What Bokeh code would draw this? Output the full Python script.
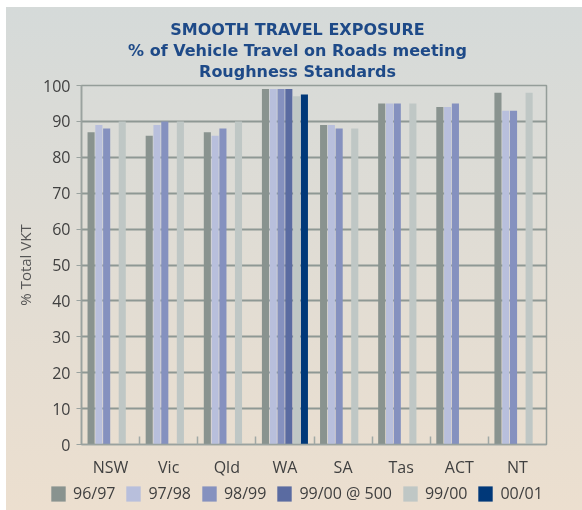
from bokeh.plotting import figure
from bokeh.layouts import column
from bokeh.models import (ColumnDataSource, Legend, LegendItem, FixedTicker, Range1d,
                          Label)
from bokeh.transform import dodge
from bokeh.embed import file_html
from bokeh.resources import INLINE

# ---- data ----
states = ["NSW", "Vic", "Qld", "WA", "SA", "Tas", "ACT", "NT"]
series_names = ["96/97", "97/98", "98/99", "99/00 @ 500", "99/00", "00/01"]
v_9697 = [87, 86, 87, 99, 89, 95, 94, 98]
v_9798 = [89, 89, 86, 99, 89, 95, 94, 93]
v_9899 = [88, 90, 88, 99, 88, 95, 95, 93]
v_9900_500 = [None, None, None, 99, None, None, None, None]
v_9900 = [90, 90, 90, 97, 88, 95, None, 98]
v_0001 = [None, None, None, 97.5, None, None, None, None]
y_ticks = [0, 10, 20, 30, 40, 50, 60, 70, 80, 90, 100]
title_lines = ["SMOOTH TRAVEL EXPOSURE", "% of Vehicle Travel on Roads meeting",
               "Roughness Standards"]

series_values = [v_9697, v_9798, v_9899, v_9900_500, v_9900, v_0001]
colors = ["#89938f", "#b8bfdc", "#8591bf", "#5a6ba1", "#bfc7c5", "#003879"]

FONT = "Open Sans"


def no_align(f):
    if "frame_align" in f.properties():
        f.frame_align = False


def blank_fig(h):
    f = figure(width=582, height=h, x_range=Range1d(0, 1), y_range=Range1d(0, 1),
               output_backend="svg", toolbar_location=None, title_location=None,
               x_axis_location=None, y_axis_location=None, min_border=0)
    f.background_fill_color = None
    f.border_fill_color = None
    f.outline_line_color = None
    f.xgrid.visible = False
    f.ygrid.visible = False
    no_align(f)
    return f


# ---- title strip (overlaps the chart below by 10px) ----
p_top = blank_fig(85)
p_top.margin = (0, 0, -10, 0)
for j, line in enumerate(title_lines):
    p_top.add_layout(Label(text=line, x=297, y=56 - 21 * j, x_units="screen",
                           y_units="screen", text_align="center",
                           text_baseline="alphabetic", text_font="DejaVu Sans",
                           text_font_size="16px", text_font_style="bold",
                           text_color="#1e4a88"))

# ---- main chart ----
p = figure(width=582, height=405, x_range=Range1d(-0.5, len(states) - 0.5),
           y_range=Range1d(0, 100), output_backend="svg", toolbar_location=None,
           title_location=None, min_border_left=81, min_border_right=36,
           min_border_top=10, min_border_bottom=32)
p.background_fill_color = None
p.border_fill_color = None
p.outline_line_color = "#949d99"
p.outline_line_width = 1.5
no_align(p)

slot = 0.134
bar_w = 0.122
for k, (name, vals, col) in enumerate(zip(series_names, series_values, colors)):
    xs = [i for i, v in enumerate(vals) if v is not None]
    tops = [v for v in vals if v is not None]
    src = ColumnDataSource(dict(x=xs, top=tops))
    off = (k - 2.5) * slot
    p.vbar(x=dodge("x", off), top="top", width=bar_w, source=src,
           fill_color=col, line_color=None)

p.xaxis.ticker = FixedTicker(ticks=list(range(len(states))),
                             minor_ticks=[i + 0.5 for i in range(len(states) - 1)])
p.xaxis.major_label_overrides = {i: s for i, s in enumerate(states)}
p.xaxis.major_tick_line_color = None
p.xaxis.minor_tick_in = 8
p.xaxis.minor_tick_out = 0
p.xaxis.minor_tick_line_color = "#a0a8a5"
p.xaxis.minor_tick_line_width = 1.5
p.xaxis.axis_line_color = "#9aa29f"
p.xaxis.axis_line_width = 1.5
p.xaxis.major_label_text_font = FONT
p.xaxis.major_label_text_font_size = "16px"
p.xaxis.major_label_text_color = "#404040"
p.xaxis.major_label_standoff = 5
p.xgrid.grid_line_color = None

p.yaxis.ticker = FixedTicker(ticks=y_ticks)
p.yaxis.major_tick_out = 5
p.yaxis.major_tick_in = 0
p.yaxis.major_tick_line_color = "#9aa29f"
p.yaxis.minor_tick_line_color = None
p.yaxis.axis_line_color = "#9aa29f"
p.yaxis.axis_line_width = 1.5
p.yaxis.major_label_text_font = FONT
p.yaxis.major_label_text_font_size = "16px"
p.yaxis.major_label_text_color = "#404040"
p.yaxis.major_label_standoff = 6
p.yaxis.axis_label = "% Total VKT"
p.yaxis.axis_label_text_font = FONT
p.yaxis.axis_label_text_font_size = "15px"
p.yaxis.axis_label_text_font_style = "normal"
p.yaxis.axis_label_text_color = "#555555"
p.yaxis.axis_label_standoff = 5
p.ygrid.grid_line_color = "#8e9894"
p.ygrid.grid_line_width = 2

# ---- legend strip ----
p_bot = blank_fig(30)
items = []
for name, col in zip(series_names, colors):
    # zero-height swatch carrier: only its colour is used, by the legend
    r = p_bot.vbar(x=[0.5], top=[0], width=0.1, fill_color=col, line_color=None)
    items.append(LegendItem(label=name, renderers=[r]))
legend = Legend(items=items, orientation="horizontal", location=(49, 6),
                glyph_width=18, glyph_height=19, label_height=19, label_standoff=6,
                spacing=9, padding=0, margin=0, background_fill_alpha=0,
                border_line_color=None, label_text_font=FONT,
                label_text_font_size="16px", label_text_color="#3f3f3f")
p_bot.add_layout(legend)

layout = column(p_top, p, p_bot, spacing=0)

css = ("<style>html{background:#ffffff;margin:0;padding:0}"
       "body{margin:0;padding:0;background:transparent}"
       "body::before{content:'';position:fixed;left:6px;top:7px;right:0;bottom:0;"
       "background:linear-gradient(#d5dad9,#ecdfcf);z-index:-1}</style>")
html = file_html(layout, INLINE)
html = html.replace("</head>", css + "</head>", 1)
open("out.html", "w").write(html)
